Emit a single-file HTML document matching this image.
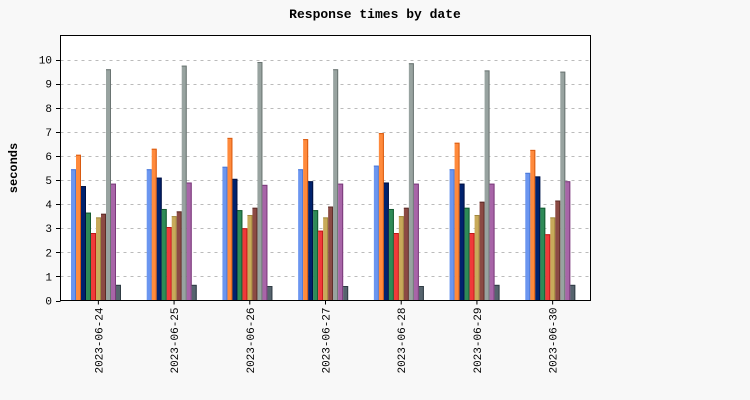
<!DOCTYPE html>
<html><head><meta charset="utf-8"><style>
body{margin:0;background:#f8f8f8;}
svg{display:block;font-family:"Liberation Mono",monospace;}
</style></head><body>
<svg id="chart" width="750" height="400">
<rect x="0" y="0" width="750" height="400" fill="#f8f8f8"/>
<text x="375" y="18" text-anchor="middle" font-size="13" font-weight="bold">Response times by date</text>
<text transform="translate(17,168) rotate(-90)" text-anchor="middle" font-size="12" font-weight="bold">seconds</text>
<rect x="60.5" y="35.5" width="530" height="265" fill="#fff" stroke="none"/>
<g id="grid"></g><g id="bars"></g><g id="axes"></g>
<rect x="60.5" y="35.5" width="530" height="265" fill="none" stroke="#000"/>
</svg>
<script>
const categories=["2023-06-24","2023-06-25","2023-06-26","2023-06-27","2023-06-28","2023-06-29","2023-06-30"];
const s1=[5.45,5.45,5.55,5.45,5.6,5.45,5.3];
const s2=[6.05,6.3,6.75,6.7,6.95,6.55,6.25];
const s3=[4.75,5.1,5.05,4.95,4.9,4.85,5.15];
const s4=[3.65,3.8,3.75,3.75,3.8,3.85,3.85];
const s5=[2.8,3.05,3.0,2.9,2.8,2.8,2.75];
const s6=[3.45,3.5,3.55,3.45,3.5,3.55,3.45];
const s7=[3.6,3.7,3.85,3.9,3.85,4.1,4.15];
const s8=[9.6,9.75,9.9,9.6,9.85,9.55,9.5];
const s9=[4.85,4.9,4.8,4.85,4.85,4.85,4.95];
const s10=[0.65,0.65,0.6,0.6,0.6,0.65,0.65];
const yTicks=[0,1,2,3,4,5,6,7,8,9,10];
const series=[s1,s2,s3,s4,s5,s6,s7,s8,s9,s10];
const colors=["#6b96f0","#ff8a3c","#00226e","#2e8b57","#f03a3a","#c8aa5a","#8b4a44","#98a3a0","#a865a8","#56646e"];
const edges=["#4a78d8","#d85a10","#001040","#145a30","#c01818","#a08840","#5a2a26","#6a7472","#7a3a7a","#303c44"];
const NS="http://www.w3.org/2000/svg";
const X0=60.5,X1=590.5,Y0=300.5,YTOP=35.5,YMAX=11;
function y(v){return Y0-v*(Y0-YTOP)/YMAX;}
const gw=(X1-X0)/categories.length;
function gx(i){return X0+i*gw;}
const grid=document.getElementById('grid'),bars=document.getElementById('bars'),axes=document.getElementById('axes');
yTicks.forEach(t=>{
 if(t>0){const l=document.createElementNS(NS,'line');
 
 
 l.setAttribute('x1',X0);l.setAttribute('x2',X1);l.setAttribute('y1',Math.round(y(t))+0.5);l.setAttribute('y2',Math.round(y(t))+0.5);
 l.setAttribute('stroke','#bbb');l.setAttribute('stroke-dasharray','3,4');grid.appendChild(l);}
 const tk=document.createElementNS(NS,'line');
 
 
 tk.setAttribute('x1',56);tk.setAttribute('x2',X0);tk.setAttribute('y1',Math.round(y(t))+0.5);tk.setAttribute('y2',Math.round(y(t))+0.5);tk.setAttribute('stroke','#000');axes.appendChild(tk);
 const tx=document.createElementNS(NS,'text');
 
 
 tx.setAttribute('x',52);tx.setAttribute('y',y(t)+4);tx.setAttribute('text-anchor','end');tx.setAttribute('font-size','11');tx.textContent=t;axes.appendChild(tx);
});
const bw=5;
categories.forEach((c,i)=>{
 const start=gx(i)+10.5;
 series.forEach((s,k)=>{
  const v=s[i],top=y(v),bx=start+k*bw;
  const r=document.createElementNS(NS,'rect');
  
  
  r.setAttribute('x',bx);r.setAttribute('y',top);r.setAttribute('width',bw);r.setAttribute('height',Y0-top);r.setAttribute('fill',colors[k]);bars.appendChild(r);
  const e=document.createElementNS(NS,'path');
  
  
  e.setAttribute('d','M'+bx+' '+(top+0.5)+'H'+(bx+bw-0.5)+'V'+Y0);e.setAttribute('stroke',edges[k]);e.setAttribute('fill','none');bars.appendChild(e);
 });
 const cx=gx(i)+gw/2;
 const tk=document.createElementNS(NS,'line');
 
 
 tk.setAttribute('x1',cx);tk.setAttribute('x2',cx);tk.setAttribute('y1',Y0);tk.setAttribute('y2',Y0+4);tk.setAttribute('stroke','#000');axes.appendChild(tk);
 const tx=document.createElementNS(NS,'text');
 
 
 tx.setAttribute('transform','translate('+(cx+4)+','+(Y0+7)+') rotate(-90)');tx.setAttribute('text-anchor','end');tx.setAttribute('font-size','11');tx.textContent=c;axes.appendChild(tx);
});
</script>
</body></html>
